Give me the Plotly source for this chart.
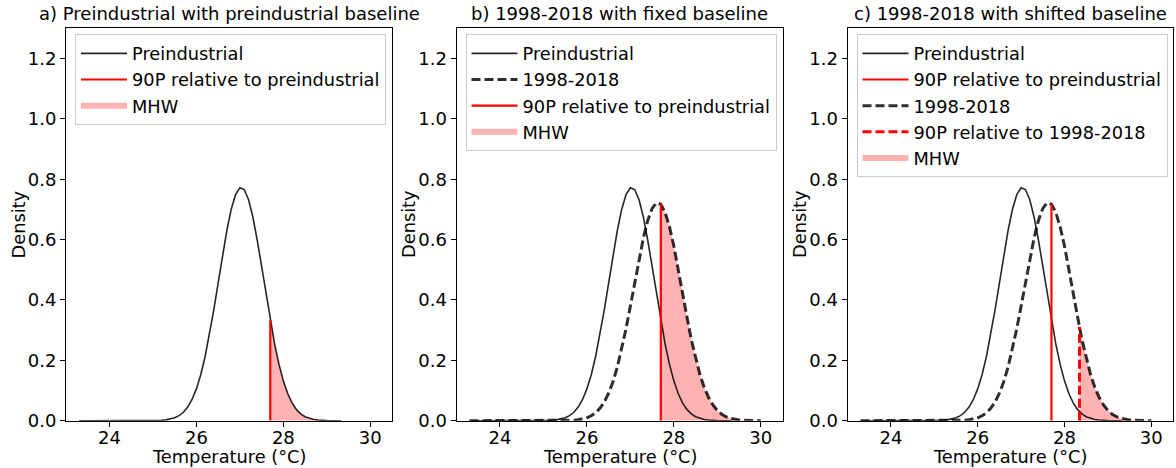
import numpy as np
import plotly.graph_objects as go

# ---- data ----
temp_pre = [23.3, 24.5, 25.0, 25.2, 25.3, 25.4, 25.5, 25.6, 25.7, 25.8, 25.9, 26.0, 26.1, 26.2,
            26.3, 26.4, 26.5, 26.6, 26.7, 26.8, 26.9, 27.0, 27.1, 27.2, 27.3, 27.4, 27.5,
            27.6, 27.7, 27.8, 27.9, 28.0, 28.1, 28.2, 28.3, 28.4, 28.5, 28.6, 28.7, 28.8,
            28.9, 29.0, 29.33]
dens_pre = [0.0, 0.0, 0.0003, 0.0014, 0.0028, 0.0053, 0.0095, 0.0166, 0.0279, 0.0451, 0.0703,
            0.1054, 0.1524, 0.2120, 0.2841, 0.3669, 0.4561, 0.5464, 0.6301, 0.7000, 0.7489,
            0.7717, 0.7659, 0.7322, 0.6741, 0.5978, 0.5105, 0.4199, 0.3327, 0.2539, 0.1866,
            0.1321, 0.0901, 0.0591, 0.0374, 0.0228, 0.0134, 0.0076, 0.0041, 0.0022, 0.0011,
            0.0005, 0.0]

temp_recent = [23.3, 25.0, 25.5, 25.6, 25.7, 25.8, 25.9, 26.0, 26.1, 26.2, 26.3, 26.4, 26.5,
               26.6, 26.7, 26.8, 26.9, 27.0, 27.1, 27.2, 27.3, 27.4, 27.5, 27.6, 27.7, 27.8,
               27.9, 28.0, 28.1, 28.2, 28.3, 28.4, 28.5, 28.6, 28.7, 28.8, 28.9, 29.0, 29.1,
               29.2, 29.3, 29.4, 29.5, 29.6, 29.8, 30.0]
dens_recent = [0.0, 0.0, 0.0005, 0.0009, 0.0017, 0.0032, 0.0056, 0.0097, 0.0162, 0.0261,
               0.0410, 0.0620, 0.0910, 0.1292, 0.1776, 0.2363, 0.3044, 0.3796, 0.4582, 0.5355,
               0.6059, 0.6635, 0.7034, 0.7219, 0.7173, 0.6899, 0.6423, 0.5789, 0.5052, 0.4267,
               0.3450, 0.2700, 0.2060, 0.1530, 0.1100, 0.0770, 0.0520, 0.0340, 0.0215, 0.0131,
               0.0078, 0.0045, 0.0025, 0.0013, 0.0003, 0.0]

p90_pre = 27.70        # 90th percentile relative to preindustrial
p90_recent = 28.345    # 90th percentile relative to 1998-2018

panel_titles = ["a) Preindustrial with preindustrial baseline",
                "b) 1998-2018 with fixed baseline",
                "c) 1998-2018 with shifted baseline"]
x_label = "Temperature (°C)"
y_label = "Density"
y_ticks = [0.0, 0.2, 0.4, 0.6, 0.8, 1.0, 1.2]
x_ticks = [24, 26, 28, 30]

# ---- styling ----
FONT = "DejaVu Sans"
FS_LEG = 17.8
FS_TICK = 18
FS_LAB = 17.8
FS_TITLE = 18
BLACK = "rgba(0,0,0,0.85)"
DASHBLACK = "rgba(0,0,0,0.82)"
RED = "#ff0000"
FILL = "rgba(255,0,0,0.3)"

xp = np.array(temp_pre); yp = np.array(dens_pre)
xr = np.array(temp_recent); yr = np.array(dens_recent)


def fill_under(x, y, thr):
    h = float(np.interp(thr, x, y))
    m = x > thr
    return np.concatenate([[thr], x[m]]), np.concatenate([[h], y[m]])


fig = go.Figure()
W, H = 1176, 468
doms = [(66 / W, 392 / W), (456.5 / W, 782.5 / W), (847.5 / W, 1173 / W)]
ydom = (1 - 420.7 / H, 1 - 28.3 / H)

for i in range(3):
    sx = "" if i == 0 else str(i + 1)
    xa, ya = "x" + sx, "y" + sx
    leg = "legend" + sx
    if i == 0:
        fx, fy = fill_under(xp, yp, p90_pre)
    elif i == 1:
        fx, fy = fill_under(xr, yr, p90_pre)
    else:
        fx, fy = fill_under(xr, yr, p90_recent)
    fig.add_trace(go.Scatter(x=fx, y=fy, mode="none", fill="tozeroy", fillcolor=FILL,
                             name="MHW", xaxis=xa, yaxis=ya, legend=leg, legendrank=10))
    fig.add_trace(go.Scatter(x=xp, y=yp, mode="lines", line=dict(color=BLACK, width=1.6),
                             name="Preindustrial", xaxis=xa, yaxis=ya, legend=leg, legendrank=1))
    if i >= 1:
        fig.add_trace(go.Scatter(x=xr, y=yr, mode="lines",
                                 line=dict(color=DASHBLACK, width=3, dash="9px,4px"),
                                 name="1998-2018", xaxis=xa, yaxis=ya, legend=leg,
                                 legendrank=2 if i == 1 else 3))
    top_pre = float(np.interp(p90_pre, xp, yp)) if i == 0 else float(np.interp(p90_pre, xr, yr))
    fig.add_trace(go.Scatter(x=[p90_pre, p90_pre], y=[0, top_pre], mode="lines",
                             line=dict(color=RED, width=2.2),
                             name="90P relative to preindustrial", xaxis=xa, yaxis=ya,
                             legend=leg, legendrank=3 if i == 1 else 2))
    if i == 2:
        top_r = float(np.interp(p90_recent, xr, yr))
        fig.add_trace(go.Scatter(x=[p90_recent, p90_recent], y=[0, top_r], mode="lines",
                                 line=dict(color=RED, width=3, dash="9px,4px"),
                                 name="90P relative to 1998-2018", xaxis=xa, yaxis=ya,
                                 legend=leg, legendrank=4))

    axcommon = dict(showline=True, linecolor="black", linewidth=1, mirror=True,
                    ticks="outside", ticklen=5, tickcolor="black", showgrid=False,
                    zeroline=False, automargin=False,
                    tickfont=dict(family=FONT, size=FS_TICK, color="black"))
    fig.update_layout({
        "xaxis" + sx: dict(domain=list(doms[i]), range=[23.0, 30.5], tickvals=x_ticks,
                           anchor=ya, ticklabelstandoff=-4, **axcommon),
        "yaxis" + sx: dict(domain=list(ydom), range=[0, 1.3], tickvals=y_ticks,
                           tickformat=".1f", anchor=xa, **axcommon),
        leg: dict(x=doms[i][0] + 9 / W, y=ydom[1] - 6 / H, xanchor="left", yanchor="top",
                  bgcolor="rgba(255,255,255,0.8)", bordercolor="#cccccc", borderwidth=1,
                  itemwidth=46,
                  font=dict(family=FONT, size=FS_LEG, color="black"), traceorder="normal"),
    })
    cx = (doms[i][0] + doms[i][1]) / 2
    fig.add_annotation(text=panel_titles[i], xref="paper", yref="paper",
                       x=cx, y=ydom[1], xanchor="center",
                       yanchor="bottom", yshift=2, showarrow=False,
                       font=dict(family=FONT, size=FS_TITLE, color="black"))
    # axis labels
    fig.add_annotation(text=x_label, xref="paper", yref="paper", x=cx, y=1 - 456.5 / H,
                       xanchor="center", yanchor="middle", showarrow=False,
                       font=dict(family=FONT, size=FS_LAB, color="black"))
    fig.add_annotation(text=y_label, xref="paper", yref="paper",
                       x=doms[i][0] - 48 / W, y=(ydom[0] + ydom[1]) / 2,
                       xanchor="center", yanchor="middle", textangle=-90, showarrow=False,
                       font=dict(family=FONT, size=FS_LAB, color="black"))

fig.update_layout(width=W, height=H, margin=dict(l=0, r=0, t=0, b=0, autoexpand=False),
                  plot_bgcolor="white", paper_bgcolor="white", showlegend=True,
                  font=dict(family=FONT, size=FS_LEG, color="black"))

fig.write_html("out.html", config={"displayModeBar": False},
               post_script="document.body.style.margin='0px';"
                           "document.body.style.overflow='hidden';")
